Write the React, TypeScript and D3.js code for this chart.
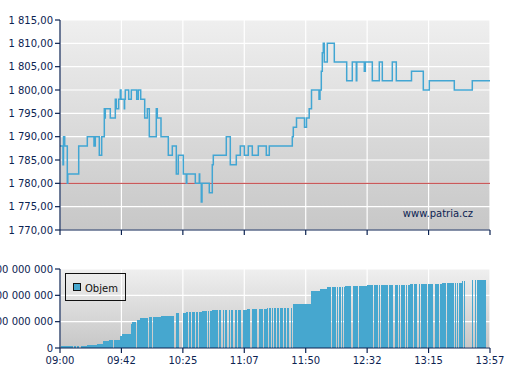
import React from "react";
import * as d3 from "d3";

// ---- price data (minutes after 09:00, price) ----
const priceMinutes = [
  0, 2.07, 2.42, 3.25, 5.04, 5.39, 12.92, 18.86, 23.48, 24.38,
  27.14, 28.8, 30.6, 30.94, 31.29, 34.74, 38.2, 38.89, 40.54, 41.65,
  42.13, 44.41, 44.62, 45.1, 47.45, 49.25, 52.98, 54.08, 55.74, 58.5,
  60.3, 61.68, 66.51, 67.2, 69.76, 74.8, 77.57, 80.33, 81.71, 85.16,
  87.24, 87.58, 93.45, 96.21, 96.49, 97.6, 98.08, 103.12, 105.19, 105.88,
  114.86, 117.62, 121.77, 124.53, 127.3, 130.06, 132.82, 136.97, 142.49, 144.56,
  160.45, 161.14, 163.35, 168.88, 170.26, 172.12, 173.71, 178.89, 179.58, 180.48,
  181.17, 181.86, 182.55, 184.62, 189.46, 198.02, 201.89, 204.65, 205.0, 210.18,
  210.87, 215.71, 220.54, 222.62, 229.52, 232.28, 242.78, 250.93, 255.07, 272.34,
  284.77, 297,
];
const priceValues = [
  1788, 1784, 1790, 1788, 1780, 1782, 1788, 1790, 1788, 1790,
  1786, 1790, 1796, 1794, 1796, 1794, 1798, 1796, 1798, 1800,
  1798, 1796, 1798, 1800, 1798, 1800, 1798, 1800, 1798, 1794,
  1796, 1790, 1796, 1794, 1790, 1786, 1788, 1782, 1786, 1782,
  1780, 1782, 1780, 1782, 1780, 1776, 1780, 1778, 1784, 1786,
  1790, 1784, 1786, 1788, 1786, 1788, 1786, 1788, 1786, 1788,
  1790, 1792, 1794, 1792, 1794, 1796, 1800, 1798, 1800, 1804,
  1808, 1810, 1806, 1810, 1806, 1802, 1806, 1802, 1806, 1804,
  1806, 1802, 1806, 1802, 1806, 1802, 1804, 1800, 1802, 1800,
  1802, 1802,
];
const previousClose = 1780;
const priceTicks = [1770, 1775, 1780, 1785, 1790, 1795, 1800, 1805, 1810, 1815];

// ---- cumulative volume (millions) as levels over minute ranges ----
const volStart = [
  0.69, 9.67, 11.74, 14.5, 18.86, 25.56, 29.7, 33.84, 41.44, 42.82,
  48.83, 49.73, 52.98, 55.26, 61.47, 64.44, 69.97, 80.12, 87.03, 98.08,
  104.99, 128.95, 132.41, 137.24, 142.77, 160.72, 173.57, 179.58, 184.21, 196.85,
  211.84, 241.75, 263.64, 277.45, 284.36,
];
const volEnd = [
  8.77, 11.05, 13.12, 18.86, 25.56, 29.7, 33.84, 41.44, 42.82, 48.83,
  49.73, 52.49, 55.26, 60.78, 63.34, 69.55, 78.74, 87.03, 98.08, 104.99,
  128.95, 131.23, 135.86, 142.77, 160.04, 173.16, 179.58, 184.21, 196.85, 211.84,
  241.75, 263.64, 277.45, 279.73, 294.24,
];
const volValue = [
  8, 8, 8, 8, 11, 14, 28, 32, 46, 53,
  91, 99, 106, 114, 118, 118, 121, 133, 137, 140,
  144, 148, 148, 148, 152, 167, 216, 224, 232, 235,
  239, 244, 248, 253, 258,
];
const volGaps = [
  36.9, 82.88, 84.27, 88.89, 90.69, 93.45, 95.8, 101.74, 103.12,
  109.61, 111.89, 113.76, 116.04, 117.9, 120.18, 122.46, 125.71,
  140.42, 144.15, 145.95, 147.33, 149.67, 151.47, 154.23, 156.58, 158.86,
  187.66, 191.12, 192.5, 194.29, 195.68, 201.68, 206.31,
  216.4, 220.13, 221.02, 227.03, 230.69, 233.94, 235.32, 238.5, 239.88,
  244.03, 247.27, 249.14, 253.7, 258.32, 261.98,
  267.09, 272.61, 274.0, 275.38, 278.56, 285.95, 287.82,
];
const volTicks = [0, 100, 200, 300];

const sessionMinutes = 297;
const timeTickCount = 7;

const NAVY = "#0c2352";
const LINE = "#42a6d3";
const BAR = "#46a7cf";
const FONT = "'DejaVu Sans', Verdana, sans-serif";

const czLocale = d3.formatLocale({
  decimal: ",",
  thousands: "\u00a0",
  grouping: [3],
  currency: ["", ""],
});
const fmtPrice = czLocale.format(",.2f");
const fmtVol = czLocale.format(",.0f");

function fmtTime(m: number) {
  const t = Math.round(m);
  const h = 9 + Math.floor(t / 60);
  const mm = t % 60;
  return `${String(h).padStart(2, "0")}:${String(mm).padStart(2, "0")}`;
}

export default function App() {
  const left = 60;
  const right = 490;
  const pTop = 20;
  const pBot = 230;
  const vTop = 269;
  const vBot = 348;

  const x = d3.scaleLinear().domain([0, sessionMinutes]).range([left, right]);
  const yP = d3.scaleLinear().domain([1770, 1815]).range([pBot, pTop]);
  const yV = d3.scaleLinear().domain([0, 300]).range([vBot, vTop]);

  const xTicks = d3.range(timeTickCount + 1).map((i) => (i * sessionMinutes) / timeTickCount);

  const pts = priceMinutes.map((m, i) => [m, priceValues[i]] as [number, number]);
  const linePath = d3
    .line<[number, number]>()
    .x((d) => x(d[0]))
    .y((d) => yP(d[1]))
    .curve(d3.curveStepAfter)(pts) as string;

  // build bar rectangles, splitting levels at gaps
  const gapHalf = 0.6;
  const bars: { x0: number; x1: number; v: number }[] = [];
  volStart.forEach((s, i) => {
    const e = volEnd[i];
    const v = volValue[i];
    let cur = x(s);
    const gs = volGaps.filter((g) => g > s && g < e).sort((a, b) => a - b);
    gs.forEach((g) => {
      const gx = x(g);
      if (gx - gapHalf > cur) bars.push({ x0: cur, x1: gx - gapHalf, v });
      cur = gx + gapHalf;
    });
    if (x(e) > cur) bars.push({ x0: cur, x1: x(e), v });
  });

  return (
    <svg
      width={507}
      height={380}
      style={{ position: "absolute", left: 0, top: 0, background: "#fff" }}
      fontFamily={FONT}
    >
      <defs>
        <linearGradient id="bgP" x1="0" y1="0" x2="0" y2="1">
          <stop offset="0%" stopColor="#efefef" />
          <stop offset="100%" stopColor="#c7c7c7" />
        </linearGradient>
        <linearGradient id="bgV" x1="0" y1="0" x2="0" y2="1">
          <stop offset="0%" stopColor="#efefef" />
          <stop offset="100%" stopColor="#c7c7c7" />
        </linearGradient>
      </defs>

      {/* ---------- price panel ---------- */}
      <rect x={left} y={pTop} width={right - left} height={pBot - pTop} fill="url(#bgP)" />
      {priceTicks.map((t) => (
        <line key={"pg" + t} x1={left} x2={right} y1={yP(t)} y2={yP(t)} stroke="#fff" strokeWidth={1.2} />
      ))}
      {xTicks.map((t, i) => (
        <line key={"pv" + i} x1={x(t)} x2={x(t)} y1={pTop} y2={pBot} stroke="#fff" strokeWidth={1.2} />
      ))}
      <line x1={left} x2={right} y1={yP(previousClose)} y2={yP(previousClose)} stroke="#c0393a" strokeWidth={1} />
      <path d={linePath} fill="none" stroke={LINE} strokeWidth={1.5} />
      <text x={473} y={217} fontSize={10} fill={NAVY} textAnchor="end">
        www.patria.cz
      </text>
      {/* axes */}
      <line x1={left} x2={left} y1={pTop} y2={pBot} stroke={NAVY} strokeWidth={1.2} />
      <line x1={left} x2={right} y1={pBot} y2={pBot} stroke={NAVY} strokeWidth={1.2} />
      {priceTicks.map((t) => (
        <g key={"pt" + t}>
          <line x1={left - 5} x2={left} y1={yP(t)} y2={yP(t)} stroke={NAVY} strokeWidth={1.2} />
          <text x={53} y={yP(t)} dy="0.36em" fontSize={10} fill={NAVY} textAnchor="end">
            {fmtPrice(t)}
          </text>
        </g>
      ))}
      {xTicks.map((t, i) => (
        <line key={"px" + i} x1={x(t)} x2={x(t)} y1={pBot} y2={pBot + 5} stroke={NAVY} strokeWidth={1.2} />
      ))}

      {/* ---------- volume panel ---------- */}
      <rect x={left} y={vTop} width={right - left} height={vBot - vTop} fill="url(#bgV)" />
      {volTicks.map((t) => (
        <line key={"vg" + t} x1={left} x2={right} y1={yV(t)} y2={yV(t)} stroke="#fff" strokeWidth={1.2} />
      ))}
      {xTicks.map((t, i) => (
        <line key={"vv" + i} x1={x(t)} x2={x(t)} y1={vTop} y2={vBot} stroke="#fff" strokeWidth={1.2} />
      ))}
      {bars.map((b, i) => (
        <rect
          key={"b" + i}
          x={b.x0}
          y={yV(b.v)}
          width={Math.max(0.5, b.x1 - b.x0)}
          height={vBot - yV(b.v)}
          fill={BAR}
          shapeRendering="crispEdges"
        />
      ))}
      {/* legend */}
      <rect x={65.5} y={273.5} width={60} height={27} fill="none" stroke="#111" strokeWidth={1} />
      <rect x={73.5} y={283.5} width={7} height={7} fill={BAR} stroke="#111" strokeWidth={1} />
      <text x={85} y={291.5} fontSize={10} fill="#111">
        Objem
      </text>
      {/* axes */}
      <line x1={left} x2={left} y1={vTop} y2={vBot} stroke={NAVY} strokeWidth={1.2} />
      <line x1={left} x2={right} y1={vBot} y2={vBot} stroke={NAVY} strokeWidth={1.2} />
      {volTicks.map((t) => (
        <g key={"vt" + t}>
          <line x1={left - 5} x2={left} y1={yV(t)} y2={yV(t)} stroke={NAVY} strokeWidth={1.2} />
          <text x={53} y={yV(t)} dy="0.36em" fontSize={10} fill={NAVY} textAnchor="end">
            {fmtVol(t * 1e6)}
          </text>
        </g>
      ))}
      {xTicks.map((t, i) => (
        <g key={"vx" + i}>
          <line x1={x(t)} x2={x(t)} y1={vBot} y2={vBot + 5} stroke={NAVY} strokeWidth={1.2} />
          <text x={x(t)} y={364} fontSize={10} fill={NAVY} textAnchor="middle">
            {fmtTime(t)}
          </text>
        </g>
      ))}
    </svg>
  );
}
